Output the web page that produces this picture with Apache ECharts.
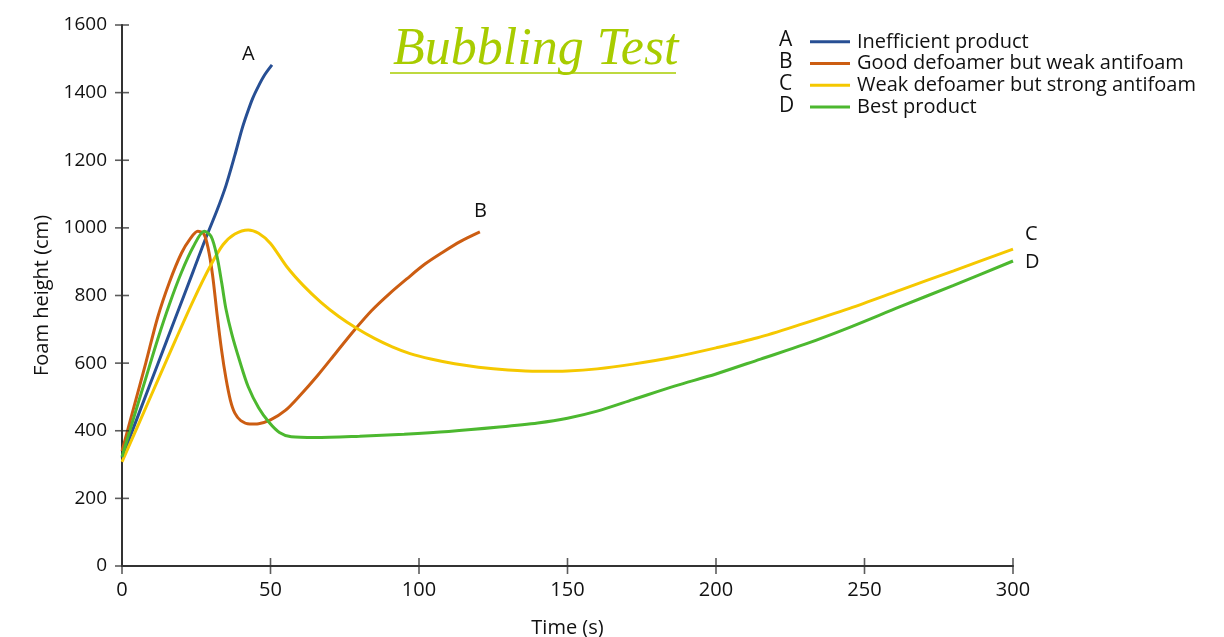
<!DOCTYPE html>
<html>
<head>
<meta charset="utf-8">
<script src="https://cdn.jsdelivr.net/npm/echarts@6/dist/echarts.min.js"></script>
<style>
html,body{margin:0;padding:0;background:#fff;}
#chart{width:1224px;height:637px;}
</style>
</head>
<body>
<div id="chart"></div>
<script>
// ---- data ----
const titleText = 'Bubbling Test';
const xTicks = [0, 50, 100, 150, 200, 250, 300];
const yTicks = [0, 200, 400, 600, 800, 1000, 1200, 1400, 1600];
const letters = ['A', 'B', 'C', 'D'];
const seriesNames = ['Inefficient product', 'Good defoamer but weak antifoam', 'Weak defoamer but strong antifoam', 'Best product'];
const seriesA = [[0,320],[6,458],[12,596],[18,734],[24,872],[28,965],[32,1052],[35,1125],[38,1215],[40.3,1289],[42,1335],[44,1383],[46,1420],[48,1452],[50.5,1482]];
const seriesB = [[0,340],[4,470],[8,600],[12,735],[16,840],[20,925],[23,968],[25.5,990],[27.5,983],[29,940],[30.5,860],[32,745],[33.5,640],[35,555],[36.5,490],[38,452],[40,430],[43,420],[46,421],[50,432],[55,460],[60,505],[66,565],[72,630],[78,695],[84,755],[90,805],[96,850],[102,893],[108,928],[114,960],[120.5,988]];
const seriesC = [[0,308],[6,428],[12,548],[18,668],[24,785],[29.6,885],[34,950],[38,982],[42.5,994],[46,984],[50,954],[55.5,885],[61,830],[67,780],[73,738],[79,703],[85,673],[91,648],[97,628],[104,612],[112,598],[120,588],[130,580],[140,576],[150,577],[160,583],[172,597],[186,618],[200,645],[214,675],[228,713],[245,762],[262,816],[280,873],[300,937]];
const seriesD = [[0,323],[4,440],[8,555],[12,670],[16,775],[20,868],[24,944],[27.7,990],[30,975],[32,915],[33.6,836],[35,760],[37,685],[39.5,610],[42.5,530],[46,468],[49.5,425],[53,395],[57,382],[65,380],[80,384],[95,390],[110,398],[127,411],[140,423],[150,437],[160,458],[172,492],[186,532],[200,568],[215,612],[230,656],[245,706],[262,767],[280,830],[300,902]];

const colors = ['#274f94', '#cc5d12', '#f5c800', '#4cb82f'];
const allData = [seriesA, seriesB, seriesC, seriesD];
const endOffsets = [[-38,-11],[-14,-21],[4,-15],[4,1]];
const FONT = 'Open Sans';

const chart = echarts.init(document.getElementById('chart'));

const series = allData.map((d, i) => ({
  name: seriesNames[i],
  type: 'line',
  data: d,
  smooth: 0.3,
  showSymbol: false,
  symbol: 'none',
  color: colors[i],
  lineStyle: {color: colors[i], width: 3},
  endLabel: {
    show: true, formatter: letters[i], offset: endOffsets[i],
    fontFamily: FONT, fontSize: 20, color: '#111'
  },
  z: 3 + i
}));

// inner halves of the crossing tick marks: a scatter of short vertical / horizontal bars
series.push({
  type: 'scatter', silent: true, z: 20,
  data: xTicks.map(v => [v, yTicks[0]]),
  symbol: 'rect', symbolSize: [1.6, 16],
  itemStyle: {color: '#333'}
});
series.push({
  type: 'scatter', silent: true, z: 20,
  data: yTicks.map(v => [xTicks[0], v]),
  symbol: 'rect', symbolSize: [14, 1.6],
  itemStyle: {color: '#333'}
});

const option = {
  backgroundColor: '#fff',
  animation: false,
  title: {
    text: titleText,
    left: 388, top: 19,
    textStyle: {fontFamily: 'Liberation Serif', fontStyle: 'italic', fontWeight: 'normal', fontSize: 52, color: '#a8cc00'}
  },
  legend: {
    orient: 'vertical',
    left: 805, top: 26,
    itemWidth: 40, itemHeight: 3, itemGap: 0,
    icon: 'rect',
    data: seriesNames,
    textStyle: {fontFamily: FONT, fontSize: 20, color: '#111', lineHeight: 21.7, padding: [0,0,0,2]}
  },
  graphic: letters.map((l, i) => ({
    type: 'text', left: 779, top: 30 + i * 21.7,
    style: {text: l, font: '21px "' + FONT + '"', fill: '#111'}
  })).concat([{
    type: 'line', shape: {x1: 390, y1: 73, x2: 676, y2: 73},
    style: {stroke: '#a8cc00', lineWidth: 1.5}
  }]),
  grid: {left: 122, right: 211, top: 25, bottom: 71, containLabel: false, outerBoundsMode: 'none'},
  xAxis: {
    type: 'value', min: xTicks[0], max: xTicks[xTicks.length - 1], interval: 50,
    axisLine: {show: true, lineStyle: {color: '#333', width: 2}},
    splitLine: {show: false},
    name: 'Time (s)', nameLocation: 'middle', nameGap: 52,
    nameTextStyle: {fontFamily: FONT, fontSize: 20, color: '#111'},
    axisTick: {show: false},
    axisLabel: {fontFamily: FONT, fontSize: 20, color: '#111', margin: 14}
  },
  yAxis: {
    type: 'value', min: yTicks[0], max: yTicks[yTicks.length - 1], interval: 200,
    axisLine: {show: true, lineStyle: {color: '#333', width: 2}},
    splitLine: {show: false},
    name: 'Foam height (cm)', nameLocation: 'middle', nameGap: 70,
    nameTextStyle: {fontFamily: FONT, fontSize: 20, color: '#111'},
    axisTick: {show: false},
    axisLabel: {fontFamily: FONT, fontSize: 19, color: '#111', margin: 15, formatter: v => String(v)}
  },
  series: series
};
chart.setOption(option);
</script>
</body>
</html>
